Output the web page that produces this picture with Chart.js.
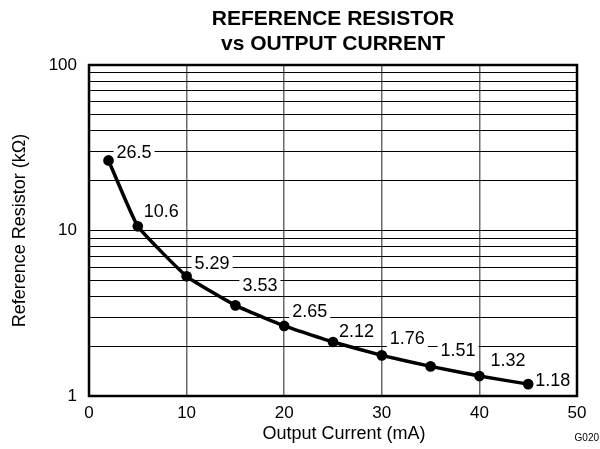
<!DOCTYPE html>
<html><head><meta charset="utf-8">
<script src="https://cdn.jsdelivr.net/npm/chart.js@4/dist/chart.umd.min.js"></script>
<style>html,body{margin:0;padding:0;background:#fff}#wrap{width:600px;height:449px;position:relative}</style>
</head><body><div id="wrap"><canvas id="c" width="600" height="449"></canvas></div>
<script>
// ---- data ----
const current = [2, 5, 10, 15, 20, 25, 30, 35, 40, 45];
const resistance = [26.5, 10.6, 5.29, 3.53, 2.65, 2.12, 1.76, 1.51, 1.32, 1.18];
const valueLabels = ['26.5', '10.6', '5.29', '3.53', '2.65', '2.12', '1.76', '1.51', '1.32', '1.18'];
const xTickValues = [0, 10, 20, 30, 40, 50];
const yLabelValues = [1, 10, 100];
const yGridValues = [1, 2, 3, 4, 5, 6, 7, 8, 9, 10, 20, 30, 40, 50, 60, 70, 80, 90, 100];
const titleLines = ['REFERENCE RESISTOR', 'vs OUTPUT CURRENT'];
const xTitle = 'Output Current (mA)';
const yTitle = 'Reference Resistor (k\u03A9)';
const figureId = 'G020';

// ---- layout (label offsets from their point, px) ----
const labelOffsets = [[8, -8], [6, -15], [8, -13], [7, -20], [8, -15], [6, -11], [8, -17], [10, -16], [11, -16], [7, -4]];

const FONT = "'Liberation Sans', Arial, sans-serif";

const decor = {
  id: 'decor',
  beforeDatasetsDraw(chart) {
    const {ctx, chartArea: a} = chart;
    const xs = chart.scales.x, ys = chart.scales.y;
    ctx.save();
    // frame
    ctx.strokeStyle = '#000';
    ctx.lineWidth = 2.5;
    ctx.strokeRect(a.left, a.top, a.right - a.left, a.bottom - a.top);
    // value labels with white boxes
    ctx.font = '18px ' + FONT;
    ctx.textAlign = 'left';
    ctx.textBaseline = 'middle';
    valueLabels.forEach((t, i) => {
      const px = xs.getPixelForValue(current[i]) + labelOffsets[i][0];
      const py = ys.getPixelForValue(resistance[i]) + labelOffsets[i][1];
      const w = ctx.measureText(t).width;
      ctx.fillStyle = '#fff';
      ctx.fillRect(px - 3, py - 9, w + 6, 18);
      ctx.fillStyle = '#000';
      ctx.fillText(t, px, py + 1);
    });
    ctx.restore();
  },
  afterDraw(chart) {
    const {ctx, chartArea: a} = chart;
    ctx.save();
    ctx.fillStyle = '#000';
    ctx.textAlign = 'center';
    ctx.textBaseline = 'alphabetic';
    ctx.font = 'bold 21px ' + FONT;
    const cx = (a.left + a.right) / 2;
    ctx.fillText(titleLines[0], cx, 25);
    ctx.fillText(titleLines[1], cx, 50);
    // x axis title
    ctx.font = '18px ' + FONT;
    ctx.textBaseline = 'middle';
    ctx.fillText(xTitle, cx + 11, 434);
    ctx.font = '10px ' + FONT;
    ctx.textAlign = 'right';
    ctx.textBaseline = 'alphabetic';
    ctx.fillText(figureId, 599, 441);
    ctx.restore();
  }
};

new Chart(document.getElementById('c'), {
  type: 'line',
  data: {
    datasets: [{
      data: current.map((x, i) => ({x: x, y: resistance[i]})),
      borderColor: '#000',
      backgroundColor: '#000',
      borderWidth: 3.5,
      pointRadius: 3.6,
      pointHoverRadius: 3.6,
      tension: 0.12
    }]
  },
  options: {
    responsive: false,
    animation: false,
    events: [],
    layout: {padding: {left: 0, right: 23, top: 65, bottom: 0}},
    plugins: {legend: {display: false}, tooltip: {enabled: false}, title: {display: false}},
    scales: {
      x: {
        type: 'linear', min: 0, max: 50,
        afterBuildTicks: s => { s.ticks = xTickValues.map(v => ({value: v})); },
        grid: {color: '#6a6a6a', lineWidth: 1.5, drawTicks: false},
        border: {display: false},
        ticks: {font: {family: FONT, size: 17}, color: '#000', padding: 7, maxRotation: 0, autoSkip: false},
        title: {display: false},
        afterFit: s => { s.height = 53; }
      },
      y: {
        type: 'logarithmic', min: 1, max: 100,
        afterBuildTicks: s => { s.ticks = yGridValues.map(v => ({value: v})); },
        grid: {color: '#000', lineWidth: 1, drawTicks: false},
        border: {display: false},
        ticks: {
          font: {family: FONT, size: 17}, color: '#000', padding: 12, autoSkip: false,
          callback: v => yLabelValues.includes(v) ? String(v) : ''
        },
        title: {display: true, text: yTitle, color: '#000', font: {family: FONT, size: 18}, padding: {top: 9, bottom: 0}},
        afterFit: s => { s.width = 89; }
      }
    }
  },
  plugins: [decor]
});
</script>
</body></html>
